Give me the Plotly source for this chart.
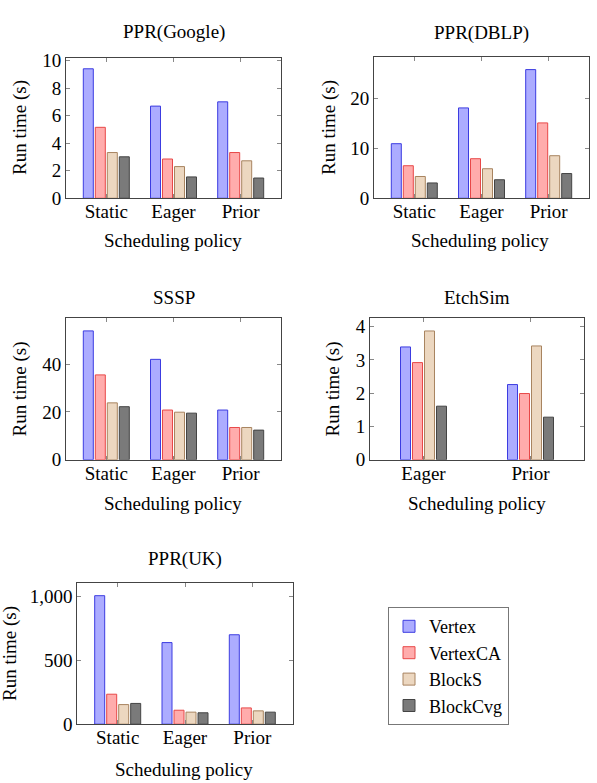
import plotly.graph_objects as go

W, H = 597, 783

series = ["Vertex", "VertexCA", "BlockS", "BlockCvg"]
policies3 = ["Static", "Eager", "Prior"]
policies2 = ["Eager", "Prior"]

google_vertex = [9.4, 6.69, 7.0]
google_vertexca = [5.15, 2.85, 3.32]
google_blocks = [3.32, 2.3, 2.72]
google_blockcvg = [3.01, 1.55, 1.47]

dblp_vertex = [10.9, 18.05, 25.7]
dblp_vertexca = [6.5, 7.9, 15.05]
dblp_blocks = [4.35, 5.9, 8.5]
dblp_blockcvg = [3.06, 3.7, 4.94]

sssp_vertex = [53.9, 42.0, 20.8]
sssp_vertexca = [35.5, 20.8, 13.5]
sssp_blocks = [23.8, 19.9, 13.5]
sssp_blockcvg = [22.2, 19.5, 12.4]

etch_vertex = [3.39, 2.26]
etch_vertexca = [2.92, 1.99]
etch_blocks = [3.87, 3.42]
etch_blockcvg = [1.61, 1.28]

uk_vertex = [1003, 637, 698]
uk_vertexca = [234, 109, 127]
uk_blocks = [153, 94, 104]
uk_blockcvg = [162, 89, 94]

fills = ["rgb(172,172,255)", "rgb(255,172,172)", "rgb(236,215,192)", "rgb(122,122,122)"]
lines = ["rgb(60,60,225)", "rgb(232,72,72)", "rgb(168,132,96)", "rgb(68,68,68)"]

FONT = "'Liberation Serif', 'DejaVu Serif', serif"
FS = 19

panels = [
    ("PPR(Google)", policies3, [google_vertex, google_vertexca, google_blocks, google_blockcvg],
     66, 281, 51, 195, [0, 10.2], 2, None, 25),
    ("PPR(DBLP)", policies3, [dblp_vertex, dblp_vertexca, dblp_blocks, dblp_blockcvg],
     374, 589, 50, 195, [0, 28.26], 10, None, 26),
    ("SSSP", policies3, [sssp_vertex, sssp_vertexca, sssp_blocks, sssp_blockcvg],
     66, 281, 317.7, 463, [0, 59.3], 20, None, 297),
    ("EtchSim", policies2, [etch_vertex, etch_vertexca, etch_blocks, etch_blockcvg],
     370, 584, 317.7, 463, [0, 4.26], 1, None, 297),
    ("PPR(UK)", policies3, [uk_vertex, uk_vertexca, uk_blocks, uk_blockcvg],
     77.3, 292.7, 589.3, 734, [0, 1102], 500, ",", 565),
]

fig = go.Figure()
layout = {}
annotations = []

for k, (title, cats, data, x0, x1, y0, y1, yr, dt, tf, ty) in enumerate(panels):
    idx = "" if k == 0 else str(k + 1)
    ncat = len(cats)
    xr = [-0.6, 2.6] if ncat == 3 else [-0.5, 1.5]
    unit = (x1 - x0) / (xr[1] - xr[0])
    pitch = 12.0 / unit
    bw = 10.0 / unit
    for i, s in enumerate(series):
        fig.add_trace(go.Bar(
            x=cats, y=data[i], name=s,
            xaxis="x" + idx, yaxis="y" + idx,
            width=bw, offset=(i - 2) * pitch + (pitch - bw) / 2,
            marker=dict(color=fills[i], line=dict(color=lines[i], width=1)),
            showlegend=(k == 0), legendgroup=s,
        ))
    xd = [x0 / W, x1 / W]
    yd = [1 - y1 / H, 1 - y0 / H]
    layout["xaxis" + idx] = dict(
        domain=xd, anchor="y" + idx, type="category", range=xr,
        showline=True, linecolor="#444", linewidth=1, mirror="allticks",
        ticks="inside", ticklen=4, tickcolor="#888", showgrid=False,
        ticklabelstandoff=-4,
        tickfont=dict(family=FONT, size=FS, color="black"), fixedrange=True,
    )
    ya = dict(
        domain=yd, anchor="x" + idx, range=yr, dtick=dt, tick0=0,
        showline=True, linecolor="#444", linewidth=1, mirror="allticks",
        ticks="inside", ticklen=4, tickcolor="#888", showgrid=False, zeroline=False,
        tickfont=dict(family=FONT, size=FS, color="black"), fixedrange=True,
    )
    if tf:
        ya["tickformat"] = tf
    layout["yaxis" + idx] = ya
    cx = (x0 + x1) / 2 / W
    annotations.append(dict(text=title, x=cx, y=1 - ty / H, xref="paper", yref="paper",
                            xanchor="center", yanchor="middle", showarrow=False,
                            font=dict(family=FONT, size=FS, color="black")))

ytitle_pos = [(20, 123), (329, 123), (20, 391), (333, 391), (10, 662)]
xtitle_pos = [(173, 238), (480, 238), (173, 507.7), (477, 507.7), (184, 780)]
for (px, py) in ytitle_pos:
    annotations.append(dict(text="Run time (s)", x=px / W, y=1 - py / H, xref="paper", yref="paper",
                            xanchor="center", yanchor="middle", textangle=-90, showarrow=False,
                            font=dict(family=FONT, size=FS, color="black")))
for (px, py) in xtitle_pos:
    annotations.append(dict(text="Scheduling policy", x=px / W, y=1 - py / H, xref="paper", yref="paper",
                            xanchor="center", yanchor="middle", showarrow=False,
                            font=dict(family=FONT, size=FS, color="black")))

fig.update_layout(
    width=W, height=H,
    margin=dict(l=0, r=0, t=0, b=0),
    paper_bgcolor="white", plot_bgcolor="white",
    barmode="overlay",
    showlegend=True,
    hovermode=False,
    font=dict(family=FONT, size=FS, color="black"),
    legend=dict(x=388 / W, y=1 - 614 / H, xanchor="left", yanchor="top",
                bordercolor="#777", borderwidth=1, bgcolor="white",
                font=dict(family=FONT, size=18, color="black"),
                itemwidth=30, tracegroupgap=0, traceorder="normal"),
    annotations=annotations,
    **layout,
)

fig.write_html("out.html", config={"displayModeBar": False},
               post_script="document.body.style.margin='0';")
